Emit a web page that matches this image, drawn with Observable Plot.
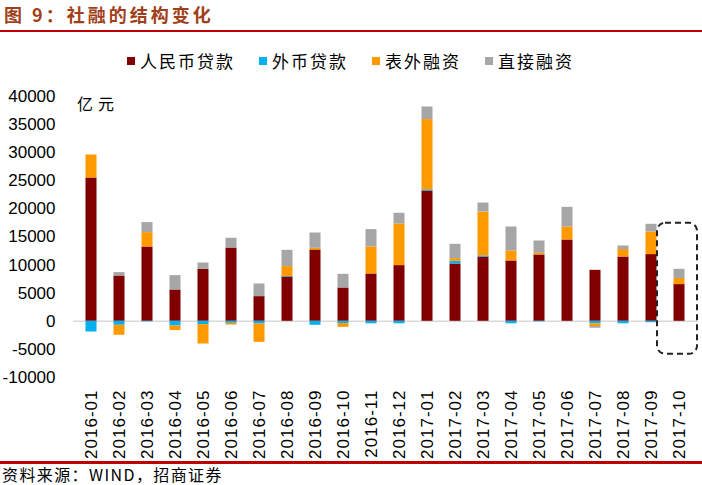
<!DOCTYPE html>
<html>
<head>
<meta charset="utf-8">
<script src="https://cdn.jsdelivr.net/npm/d3@7"></script>
<script src="https://cdn.jsdelivr.net/npm/@observablehq/plot@0.6"></script>
<style>
  body { margin: 0; background: #fff; }
  #wrap { position: relative; width: 702px; height: 485px; overflow: hidden; font-family: "Noto Sans CJK SC", sans-serif; }
  #chart { position: absolute; left: 0; top: 0; }
  .title { position: absolute; left: 4px; top: 3px; line-height: 22px; font-size: 18px; font-weight: bold; color: #A0401A; letter-spacing: 3px; white-space: nowrap; }
  .rule { position: absolute; left: 0; width: 702px; height: 2.5px; background: #C00000; }
  .legend { position: absolute; left: 127px; top: 50px; line-height: 22px; display: flex; gap: 24px; font-size: 17px; color: #000; white-space: nowrap; }
  .legend .item { display: flex; align-items: center; letter-spacing: 2px; }
  .legend .sw { width: 8px; height: 8px; margin-right: 5px; }
  .unit { position: absolute; left: 77px; top: 93px; line-height: 20px; font-size: 16px; letter-spacing: 5px; color: #000; }
  .source { position: absolute; left: 2px; top: 465px; line-height: 18px; font-size: 16px; letter-spacing: 1.4px; color: #000; white-space: nowrap; }
  svg g[aria-label="x-axis tick label"] text { letter-spacing: 1px; }
</style>
</head>
<body>
<div id="wrap">
  <div id="chart"></div>
  <div class="title">图 9：社融的结构变化</div>
  <div class="rule" style="top:29.5px"></div>
  <div class="legend" id="legend"></div>
  <div class="unit">亿元</div>
  <div class="rule" style="top:461px"></div>
  <div class="source">资料来源：WIND，招商证券</div>
</div>
<script>
const months = ["2016-01","2016-02","2016-03","2016-04","2016-05","2016-06","2016-07","2016-08","2016-09","2016-10","2016-11","2016-12",
                "2017-01","2017-02","2017-03","2017-04","2017-05","2017-06","2017-07","2017-08","2017-09","2017-10"];
const seriesNames = ["人民币贷款","外币贷款","表外融资","直接融资"];
const seriesColors = ["#800000","#00B0F0","#FF9900","#A6A6A6"];
const rmbLoans = [25500, 8060, 13220, 5570, 9250, 13040, 4390, 7880, 12690, 5930, 8420, 9910,
                  23190, 10200, 11440, 10730, 11800, 14470, 9070, 11440, 11870, 6530];
const fxLoans  = [-1900, -710, -100, -840, -590, -360, -480, 100, -710, -410, -450, -450,
                  200, 480, 200, -450, -100, 0, -450, -450, -250, 0];
const offBalance = [4090, -1780, 2560, -810, -3450, -300, -3260, 1750, 300, -660, 4800, 7400,
                    12500, 480, 7800, 1780, 300, 2310, -490, 1320, 4020, 1070];
const directFin = [0, 610, 1780, 2560, 1120, 1730, 2250, 2900, 2720, 2430, 3100, 1910,
                   2240, 2540, 1600, 4270, 2190, 3500, -300, 640, 1370, 1650];
const yTicks = [-10000, -5000, 0, 5000, 10000, 15000, 20000, 25000, 30000, 35000, 40000];
const highlightMonth = ["2017-10"];
const highlightLow = -5870, highlightHigh = 17440;

const seriesValues = [rmbLoans, fxLoans, offBalance, directFin];
const table = [];
months.forEach((m, i) => {
  seriesNames.forEach((s, j) => table.push({month: m, series: s, value: seriesValues[j][i]}));
});

const legend = document.getElementById("legend");
seriesNames.forEach((s, j) => {
  const it = document.createElement("div");
  it.className = "item";
  it.innerHTML = `<span class="sw" style="background:${seriesColors[j]}"></span><span>${s}</span>`;
  legend.appendChild(it);
});

const chart = Plot.plot({
  width: 702,
  height: 485,
  marginTop: 96,
  marginBottom: 108,
  marginLeft: 73,
  marginRight: 5,
  style: {fontFamily: "'Liberation Sans', Arial, sans-serif", fontSize: "17px", background: "transparent", color: "#000"},
  x: {domain: months, padding: 0, label: null, tickRotate: -90, tickSize: 0, tickPadding: 12},
  y: {domain: [-10000, 40000], ticks: yTicks, tickFormat: d => String(d), label: null, tickSize: 0, tickPadding: 18},
  color: {domain: seriesNames, range: seriesColors},
  marks: [
    Plot.ruleY([0], {stroke: "#d9d9d9", strokeWidth: 1.5}),
    Plot.barY(table, Plot.stackY({x: "month", y: "value", fill: "series", insetLeft: 8.5, insetRight: 8.5})),
    Plot.barY(highlightMonth, {x: d => d, y1: () => highlightLow, y2: () => highlightHigh, fill: "none",
      stroke: "#222", strokeWidth: 2, strokeDasharray: "6,4", rx: 8, insetLeft: -8, insetRight: -4})
  ]
});
document.getElementById("chart").appendChild(chart);
</script>
</body>
</html>
